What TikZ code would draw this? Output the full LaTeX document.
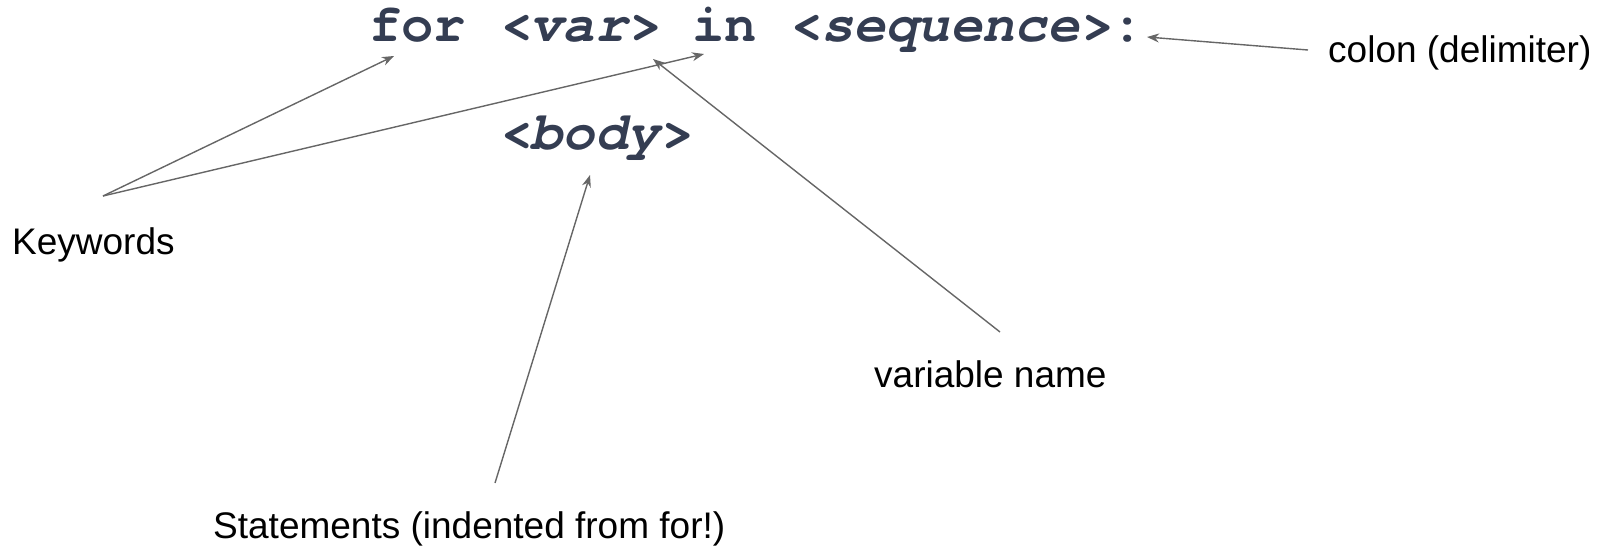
\documentclass[tikz,border=0pt]{standalone}
\usepackage{fontspec}
\setmainfont{Liberation Sans}
\newfontfamily\codefont{TeX Gyre Cursor}
\usetikzlibrary{arrows.meta}
\definecolor{codecol}{HTML}{343D52}
\definecolor{arrcol}{HTML}{666666}
\tikzset{
  codetext/.style={inner sep=0pt, anchor=base west, text=codecol, font=\codefont\bfseries\fontsize{53.8}{60}\selectfont},
  label/.style={inner sep=0pt, anchor=base west, text=black, font=\fontsize{37}{44}\selectfont},
  pointer/.style={draw=arrcol, line width=1.4pt, -{Stealth[length=12pt,width=9pt]}}
}
\begin{document}
\begin{tikzpicture}[x=1pt,y=-1pt]
\useasboundingbox (0,0) rectangle (1617,547);
% code
\node[codetext] (line1) at (369,41) {for \textit{<var>} in \textit{<sequence>}:};
\node[codetext] (body) at (498.1,149) {\textit{<body>}};
% labels
\node[label] (kw) at (12,254) {Keywords};
\node[label] (colon) at (1328,62) {colon (delimiter)};
\node[label] (varname) at (874,387) {variable name};
\node[label] (stmt) at (213,538) {Statements (indented from for!)};
% endpoints
\coordinate (kwtail) at (103,196);
\coordinate (fortip) at (394,56);
\coordinate (intip) at (704,54);
\coordinate (vartail) at (1000,332);
\coordinate (vartip) at (653,59);
\coordinate (stmttail) at (495,483);
\coordinate (bodytip) at (590,175);
\coordinate (colontail) at (1308,50);
\coordinate (colontip) at (1147,37);
% connectors
\draw[pointer] (kwtail) -- (fortip);
\draw[pointer] (kwtail) -- (intip);
\draw[pointer] (vartail) -- (vartip);
\draw[pointer] (stmttail) -- (bodytip);
\draw[pointer] (colontail) -- (colontip);
\end{tikzpicture}
\end{document}
